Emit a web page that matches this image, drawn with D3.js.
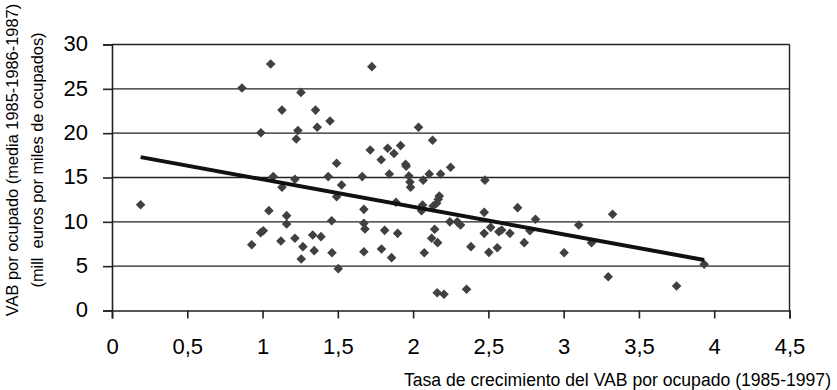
<!DOCTYPE html>
<html>
<head>
<meta charset="utf-8">
<script src="https://cdn.jsdelivr.net/npm/d3@7"></script>
<style>
  body { margin: 0; background: #fff; }
  text { font-family: "Liberation Sans", Arial, Helvetica, sans-serif; fill: #000; }
</style>
</head>
<body>
<div id="chart"></div>
<script>
// growth rate of VAB per worker (x) and VAB per worker (y)
var growthRate = [0.19, 0.863, 0.928, 0.987, 1.005, 0.989, 1.042, 1.054, 1.071, 1.122,
  1.129, 1.129, 1.16, 1.16, 1.215, 1.215, 1.224, 1.235, 1.255, 1.257,
  1.268, 1.333, 1.343, 1.352, 1.363, 1.388, 1.436, 1.448, 1.459, 1.461,
  1.492, 1.492, 1.503, 1.525, 1.662, 1.673, 1.673, 1.68, 1.673, 1.715,
  1.726, 1.788, 1.79, 1.811, 1.831, 1.842, 1.857, 1.873, 1.886, 1.897,
  1.917, 1.95, 1.954, 1.972, 1.979, 1.983, 2.036, 2.056, 2.063, 2.067,
  2.074, 2.107, 2.123, 2.129, 2.133, 2.143, 2.156, 2.16, 2.163, 2.167,
  2.174, 2.183, 2.205, 2.244, 2.249, 2.293, 2.315, 2.355, 2.384, 2.472,
  2.472, 2.477, 2.503, 2.515, 2.559, 2.57, 2.588, 2.643, 2.694, 2.738,
  2.776, 2.813, 3.003, 3.1, 3.185, 3.296, 3.325, 3.75, 3.933];
var vabLevel = [11.93, 25.1, 7.42, 8.77, 9.0, 20.05, 11.26, 27.8, 15.1, 7.84,
  22.6, 13.9, 10.7, 9.76, 14.8, 8.14, 19.34, 20.3, 24.6, 5.8,
  7.2, 8.51, 6.75, 22.6, 20.66, 8.33, 15.1, 21.37, 10.13, 6.52,
  16.6, 12.84, 4.72, 14.15, 15.1, 11.41, 9.83, 9.19, 6.63, 18.1,
  27.5, 17.0, 6.93, 9.04, 18.3, 15.4, 5.96, 17.7, 12.2, 8.7,
  18.6, 16.5, 16.26, 15.17, 14.5, 13.9, 20.66, 11.26, 11.9, 14.7,
  6.52, 15.4, 8.14, 19.2, 11.79, 9.16, 12.09, 2.0, 7.65, 12.54,
  12.9, 15.4, 1.83, 10.0, 16.15, 10.0, 9.64, 2.39, 7.2, 11.07,
  8.7, 14.7, 6.56, 9.38, 7.08, 8.89, 9.08, 8.7, 11.6, 7.65,
  9.0, 10.3, 6.52, 9.64, 7.65, 3.81, 10.85, 2.76, 5.21];

// linear trend line end points
var trendX = [0.19, 3.933];
var trendY = [17.3, 5.7];

var xTicks = [0, 0.5, 1, 1.5, 2, 2.5, 3, 3.5, 4, 4.5];
var yTicks = [0, 5, 10, 15, 20, 25, 30];

var xTitle = "Tasa de crecimiento del VAB por ocupado (1985-1997)";
var yTitle1 = "VAB por ocupado (media 1985-1986-1987)";
var yTitle2 = "(mill  euros por miles de ocupados)";

var width = 837, height = 390;
var plot = {left: 112, right: 789.5, top: 44.5, bottom: 310.5};

var svg = d3.select("#chart").append("svg")
  .attr("width", width)
  .attr("height", height);

var x = d3.scaleLinear().domain([0, 4.5]).range([plot.left, plot.right]);
var y = d3.scaleLinear().domain([0, 30]).range([plot.bottom, plot.top]);

// horizontal gridlines
svg.append("g")
  .selectAll("line")
  .data(yTicks.filter(function(d) { return d > 0; }))
  .enter().append("line")
  .attr("x1", plot.left)
  .attr("x2", plot.right)
  .attr("y1", function(d) { return y(d); })
  .attr("y2", function(d) { return y(d); })
  .attr("stroke", "#222")
  .attr("stroke-width", 1.4);

// right border
svg.append("line")
  .attr("x1", plot.right).attr("x2", plot.right)
  .attr("y1", plot.top).attr("y2", plot.bottom)
  .attr("stroke", "#222")
  .attr("stroke-width", 1.4);

// y axis
var yAxis = svg.append("g")
  .attr("transform", "translate(" + plot.left + ",0)")
  .call(d3.axisLeft(y).tickValues(yTicks).tickSize(9).tickPadding(15).tickFormat(d3.format("d")));

yAxis.selectAll("text")
  .attr("dy", "0.28em")
  .style("font-size", "22px")
  .style("font-family", "\"Liberation Sans\", Arial, sans-serif");

// x axis
var xAxis = svg.append("g")
  .attr("transform", "translate(0," + plot.bottom + ")")
  .call(d3.axisBottom(x).tickValues(xTicks).tickSize(8).tickPadding(20)
    .tickFormat(function(d) { return String(d).replace(".", ","); }));

xAxis.selectAll("text")
  .style("font-size", "22px")
  .style("font-family", "\"Liberation Sans\", Arial, sans-serif");

svg.selectAll(".domain, .tick line")
  .attr("stroke", "#222")
  .attr("stroke-width", 1.6);

// scatter points as diamonds
var diamond = d3.symbol().type(d3.symbolSquare).size(46);

svg.append("g")
  .selectAll("path")
  .data(d3.range(growthRate.length))
  .enter().append("path")
  .attr("d", diamond)
  .attr("transform", function(i) {
    return "translate(" + x(growthRate[i]) + "," + y(vabLevel[i]) + ") rotate(45)";
  })
  .attr("fill", "#404040");

// trend line
svg.append("line")
  .attr("x1", x(trendX[0])).attr("y1", y(trendY[0]))
  .attr("x2", x(trendX[1])).attr("y2", y(trendY[1]))
  .attr("stroke", "#111")
  .attr("stroke-width", 4);

// axis titles
svg.append("text")
  .attr("x", 831)
  .attr("y", 386)
  .attr("text-anchor", "end")
  .style("font-size", "17.6px")
  .text(xTitle);

svg.append("text")
  .attr("transform", "translate(18,160) rotate(-90)")
  .attr("text-anchor", "middle")
  .style("font-size", "16.4px")
  .text(yTitle1);

svg.append("text")
  .attr("transform", "translate(43,160) rotate(-90)")
  .attr("text-anchor", "middle")
  .attr("xml:space", "preserve")
  .style("white-space", "pre")
  .style("font-size", "16.4px")
  .text(yTitle2);
</script>
</body>
</html>
